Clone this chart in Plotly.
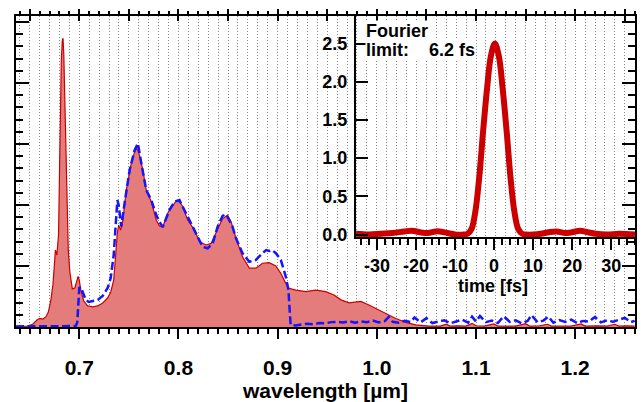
import plotly.graph_objects as go

# ---- measured spectrum (red, filled) ----
spec_wl = [0.6362, 0.6482, 0.6533, 0.6573, 0.6603, 0.6633, 0.6663, 0.6688, 0.6714, 0.6734,
           0.6749, 0.6759, 0.6774, 0.6791, 0.6801, 0.6809, 0.6819, 0.6829, 0.6836, 0.6844,
           0.6854, 0.6864, 0.6874, 0.6889, 0.6905, 0.6930, 0.6955, 0.6975, 0.6988, 0.7000,
           0.7015, 0.7045, 0.7085, 0.7136, 0.7186, 0.7236, 0.7286, 0.7317, 0.7347, 0.7367,
           0.7382, 0.7397, 0.7417, 0.7437, 0.7474, 0.7525, 0.7558, 0.7578, 0.7601, 0.7641,
           0.7675, 0.7726, 0.7776, 0.7809, 0.7842, 0.7892, 0.7943, 0.7980, 0.8010, 0.8040,
           0.8093, 0.8161, 0.8211, 0.8278, 0.8329, 0.8395, 0.8442, 0.8495, 0.8530, 0.8580,
           0.8646, 0.8714, 0.8781, 0.8847, 0.8915, 0.8982, 0.9032, 0.9082, 0.9116, 0.9183,
           0.9283, 0.9384, 0.9484, 0.9568, 0.9638, 0.9719, 0.9779, 0.9839, 0.9920, 1.0020,
           1.0121, 1.0191, 1.0291, 1.0392, 1.0523, 1.0580, 1.0640, 1.0700, 1.0740, 1.0820,
           1.0900, 1.0960, 1.1000, 1.1080, 1.1180, 1.1220, 1.1320, 1.1400, 1.1500, 1.1540,
           1.1640, 1.1720, 1.1760, 1.1880, 1.1960, 1.2060, 1.2100, 1.2220, 1.2320, 1.2400,
           1.2440, 1.2520, 1.2600]
spec_int = [0.002, 0.003, 0.010, 0.023, 0.028, 0.026, 0.033, 0.049, 0.089, 0.138,
            0.203, 0.252, 0.236, 0.302, 0.515, 0.711, 0.875, 0.941, 0.947, 0.892,
            0.744, 0.515, 0.367, 0.252, 0.180, 0.125, 0.128, 0.148, 0.166, 0.154,
            0.121, 0.085, 0.069, 0.066, 0.069, 0.079, 0.095, 0.115, 0.154, 0.236,
            0.302, 0.334, 0.318, 0.344, 0.449, 0.538, 0.574, 0.587, 0.570, 0.515,
            0.449, 0.411, 0.351, 0.331, 0.328, 0.374, 0.400, 0.415, 0.410, 0.397,
            0.351, 0.318, 0.280, 0.269, 0.274, 0.318, 0.354, 0.367, 0.345, 0.291,
            0.230, 0.193, 0.193, 0.209, 0.211, 0.200, 0.176, 0.143, 0.127, 0.121,
            0.116, 0.121, 0.116, 0.105, 0.089, 0.079, 0.082, 0.084, 0.072, 0.056,
            0.039, 0.028, 0.015, 0.007, 0.003, 0.004, 0.003, 0.009, 0.003, 0.004,
            0.003, 0.012, 0.004, 0.003, 0.010, 0.003, 0.004, 0.003, 0.011, 0.003,
            0.004, 0.009, 0.003, 0.004, 0.003, 0.010, 0.003, 0.004, 0.003, 0.009,
            0.003, 0.004, 0.003]

# ---- second spectrum (blue, dashed) ----
ref_wl = [0.6362, 0.6600, 0.6800, 0.6965, 0.6980, 0.6990, 0.7000, 0.7015, 0.7035, 0.7065,
          0.7095, 0.7136, 0.7186, 0.7236, 0.7286, 0.7317, 0.7347, 0.7367, 0.7384, 0.7397,
          0.7424, 0.7457, 0.7508, 0.7558, 0.7591, 0.7625, 0.7675, 0.7726, 0.7776, 0.7809,
          0.7842, 0.7910, 0.7960, 0.8010, 0.8060, 0.8128, 0.8194, 0.8244, 0.8294, 0.8345,
          0.8395, 0.8445, 0.8479, 0.8513, 0.8543, 0.8580, 0.8646, 0.8714, 0.8781, 0.8847,
          0.8884, 0.8915, 0.8945, 0.8982, 0.9032, 0.9082, 0.9109, 0.9121, 0.9131, 0.9183,
          0.9240, 0.9300, 0.9360, 0.9420, 0.9480, 0.9540,
          0.960, 0.966, 0.972, 0.978, 0.984, 0.990, 0.996, 1.002, 1.008, 1.012,
          1.016, 1.022, 1.028, 1.034, 1.038, 1.044, 1.050, 1.056, 1.062, 1.068,
          1.074, 1.080, 1.086, 1.092, 1.096, 1.100, 1.104, 1.110, 1.116, 1.122,
          1.128, 1.134, 1.140, 1.146, 1.152, 1.156, 1.162, 1.168, 1.173, 1.178,
          1.184, 1.190, 1.196, 1.202, 1.208, 1.214, 1.220, 1.226, 1.232, 1.238,
          1.244, 1.250, 1.256, 1.260]
ref_int = [0.002, 0.002, 0.003, 0.003, 0.016, 0.089, 0.128, 0.131, 0.115, 0.089,
           0.082, 0.085, 0.089, 0.102, 0.128, 0.161, 0.236, 0.334, 0.416, 0.400,
           0.329, 0.407, 0.515, 0.580, 0.602, 0.538, 0.449, 0.416, 0.367, 0.344,
           0.328, 0.384, 0.411, 0.416, 0.384, 0.340, 0.296, 0.263, 0.258, 0.274,
           0.329, 0.364, 0.370, 0.351, 0.331, 0.291, 0.242, 0.214, 0.220, 0.242,
           0.252, 0.249, 0.252, 0.242, 0.220, 0.165, 0.121, 0.056, 0.007, 0.005,
           0.008, 0.011, 0.009, 0.013, 0.012, 0.016,
           0.017, 0.015, 0.019, 0.014, 0.018, 0.016, 0.021, 0.015, 0.019, 0.033,
           0.017, 0.014, 0.020, 0.016, 0.031, 0.015, 0.029, 0.013, 0.018, 0.022,
           0.012, 0.019, 0.024, 0.014, 0.034, 0.018, 0.036, 0.016, 0.021, 0.013,
           0.035, 0.017, 0.022, 0.012, 0.020, 0.039, 0.016, 0.021, 0.034, 0.014,
           0.023, 0.017, 0.024, 0.013, 0.020, 0.018, 0.033, 0.015, 0.022, 0.017,
           0.024, 0.030, 0.016, 0.020]

# ---- Fourier-limited pulse (inset) ----
pulse_t = [-35.4, -32, -29, -26, -23, -21, -19, -17, -15, -14, -12, -10, -7.8, -6.8,
           -5.8, -4.8, -3.8, -2.8, -1.8, -0.8, 0.2, 1.2, 2.2, 3.2, 4.2, 5.2, 6.2, 7.2,
           8.2, 10, 12, 14, 16, 18, 20, 22, 24, 26, 29, 32, 36.1]
pulse_i = [0.01, 0.0, 0.01, 0.02, 0.04, 0.05, 0.03, 0.02, 0.04, 0.04, 0.02, 0.0, 0.0, 0.01,
           0.07, 0.30, 0.75, 1.36, 1.91, 2.34, 2.50, 2.34, 1.91, 1.36, 0.75, 0.30, 0.07, 0.01,
           0.0, 0.0, 0.01, 0.03, 0.04, 0.02, 0.03, 0.05, 0.03, 0.01, 0.0, 0.01, 0.0]

inset_tickvals = [-30, -20, -10, 0, 10, 20, 30]
inset_ticktext = ["-30", "-20", "-10", "0", "10", "20", "30"]

WL_RANGE = [0.6362, 1.2603]
FONT = "Liberation Sans, Arial, sans-serif"
RED = "#cc0000"
FILL = "#e47c7c"
BLUE = "#1414ff"
GRID = "#8a8a8a"

fig = go.Figure()

fig.add_trace(go.Scatter(x=spec_wl, y=spec_int, mode="lines", fill="tozeroy",
                         fillcolor=FILL, line=dict(color=RED, width=1.2),
                         xaxis="x", yaxis="y", showlegend=False))
fig.add_trace(go.Scatter(x=ref_wl, y=ref_int, mode="lines",
                         line=dict(color=BLUE, width=2.5, dash="8px,3.5px"),
                         xaxis="x", yaxis="y", showlegend=False))
fig.add_trace(go.Scatter(x=pulse_t, y=pulse_i, mode="lines", line_shape="spline",
                         line=dict(color=RED, width=6),
                         xaxis="x2", yaxis="y2", showlegend=False))
# empty traces so the top tick axes get drawn
fig.add_trace(go.Scatter(x=[], y=[], xaxis="x3", yaxis="y", showlegend=False))
fig.add_trace(go.Scatter(x=[], y=[], xaxis="x4", yaxis="y", showlegend=False))

top_common = dict(overlaying="x", side="top", anchor="y", range=WL_RANGE,
                  showticklabels=False, showgrid=False, zeroline=False,
                  dtick=0.05, tick0=0.0, ticklen=5, tickwidth=1.5, tickcolor="black",
                  minor=dict(dtick=0.01, tick0=0.0, ticklen=3.5, tickwidth=1.5,
                             tickcolor="black", showgrid=False))

fig.update_layout(
    width=641, height=402,
    margin=dict(l=16, r=4, t=16, b=75),
    paper_bgcolor="white", plot_bgcolor="rgba(0,0,0,0)",
    font=dict(family=FONT, color="black"),
    xaxis=dict(
        domain=[0, 1], anchor="y", range=WL_RANGE,
        showline=True, linewidth=2, linecolor="black", mirror=False, zeroline=False,
        ticks="outside", dtick=0.1, tick0=0.0, tickformat=".1f",
        ticklen=10, tickwidth=1.5, tickcolor="black",
        tickfont=dict(size=21, family=FONT, weight="bold"), ticklabelstandoff=11,
        showgrid=True, gridcolor=GRID, gridwidth=1, griddash="1px,2px",
        minor=dict(dtick=0.01, tick0=0.0, ticks="outside", ticklen=5, tickwidth=1.5,
                   tickcolor="black", showgrid=True, gridcolor=GRID, gridwidth=1,
                   griddash="1px,2px"),
        title=dict(text="wavelength [µm]", font=dict(size=21, family=FONT, weight="bold"),
                   standoff=1),
    ),
    xaxis3=dict(ticks="outside", showline=True, linewidth=2, linecolor="black", **top_common),
    xaxis4=dict(ticks="inside", showline=False, **top_common),
    yaxis=dict(
        domain=[0, 1], anchor="x", range=[0, 1.0197],
        showline=True, linewidth=2, linecolor="black", mirror="ticks", zeroline=False,
        ticks="inside", dtick=0.2, tick0=0, ticklen=13, tickwidth=1.5, tickcolor="black",
        showticklabels=False, showgrid=False,
        minor=dict(dtick=0.04, tick0=0, ticks="inside", ticklen=7, tickwidth=1.5,
                   tickcolor="black", showgrid=False),
    ),
    xaxis2=dict(
        domain=[0.5491, 1.0], anchor="y2", range=[-35.4, 36.1],
        showline=True, linewidth=2, linecolor="black", zeroline=False, showgrid=False,
        ticks="outside", tickvals=inset_tickvals, ticktext=inset_ticktext,
        ticklen=11, tickwidth=1.5, tickcolor="black",
        tickfont=dict(size=18, family=FONT, weight="bold"), ticklabelstandoff=0,
        minor=dict(dtick=2, tick0=0, ticks="outside", ticklen=6, tickwidth=1.5,
                   tickcolor="black", showgrid=False),
    ),
    yaxis2=dict(
        domain=[0.2878, 1.0], anchor="x2", range=[-0.039, 2.86],
        showline=True, linewidth=2, linecolor="black", zeroline=False, showgrid=False,
        ticks="inside", dtick=0.5, tick0=0, tickformat=".1f",
        ticklen=12, tickwidth=1.5, tickcolor="black",
        tickfont=dict(size=18, family=FONT, weight="bold"), ticklabelstandoff=3,
    ),
)

fig.add_annotation(text="time [fs]", xref="paper", yref="paper",
                   x=(495 - 16) / 621, y=(327 - 286) / 311, xanchor="center", yanchor="middle",
                   showarrow=False, font=dict(size=18, family=FONT, weight="bold"))
fig.add_annotation(text="Fourier", xref="paper", yref="paper",
                   x=(366 - 16) / 621, y=(327 - 31) / 311, xanchor="left", yanchor="middle",
                   showarrow=False, bgcolor="white", borderpad=0,
                   font=dict(size=18, family=FONT, weight="bold"))
fig.add_annotation(text="limit:\u00a0\u00a0\u00a0\u00a06.2 fs", xref="paper", yref="paper",
                   x=(366 - 16) / 621, y=(327 - 50) / 311, xanchor="left", yanchor="middle",
                   showarrow=False, bgcolor="white", borderpad=0,
                   font=dict(size=18, family=FONT, weight="bold"))

fig.write_html("out.html")
